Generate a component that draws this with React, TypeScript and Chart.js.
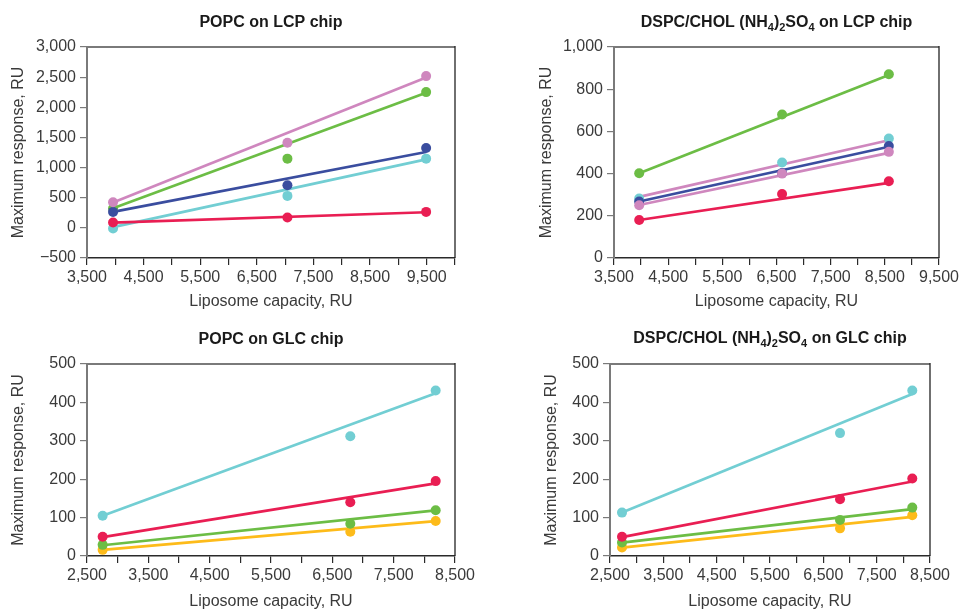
import React, { useEffect, useRef } from 'react';
import { Chart, registerables } from 'chart.js';

Chart.register(...registerables);

// ---------- Data ----------
// Panel 1: POPC on LCP chip
const p1X = [3960, 7040, 9490];
const p1Pink = [425, 1413, 2517];
const p1PinkFit = [420, 2495];
const p1Green = [320, 1148, 2252];
const p1GreenFit = [326, 2241];
const p1Blue = [265, 707, 1325];
const p1BlueFit = [265, 1259];
const p1Cyan = [-11, 530, 1148];
const p1CyanFit = [11, 1137];
const p1Red = [88, 171, 265];
const p1RedFit = [88, 259];

// Panel 2: DSPC/CHOL (NH4)2SO4 on LCP chip
const p2X = [3965, 6603, 8574];
const p2Green = [402, 680, 871];
const p2GreenFit = [402, 867];
const p2Cyan = [282, 453, 566];
const p2CyanFit = [290, 558];
const p2Blue = [268, 403, 531];
const p2BlueFit = [268, 527];
const p2Pink = [250, 400, 503];
const p2PinkFit = [251, 498];
const p2Red = [180, 303, 364];
const p2RedFit = [180, 356];

// Panel 3: POPC on GLC chip
const p3X = [2755, 6793, 8185];
const p3Cyan = [105, 312, 431];
const p3CyanFit = [105, 424];
const p3Red = [50, 140, 195];
const p3RedFit = [49, 189];
const p3Green = [29, 84, 119];
const p3GreenFit = [28, 119];
const p3Yellow = [16, 63, 91];
const p3YellowFit = [16, 91];

// Panel 4: DSPC/CHOL (NH4)2SO4 on GLC chip
const p4X = [2725, 6813, 8168];
const p4Cyan = [113, 320, 431];
const p4CyanFit = [113, 422];
const p4Red = [50, 148, 202];
const p4RedFit = [49, 194];
const p4Green = [35, 94, 126];
const p4GreenFit = [35, 122];
const p4Yellow = [22, 72, 106];
const p4YellowFit = [22, 102];

const titleP1 = [{ t: 'POPC on LCP chip' }];
const titleP2 = [
  { t: 'DSPC/CHOL (NH' }, { t: '4', sub: true }, { t: ')' }, { t: '2', sub: true },
  { t: 'SO' }, { t: '4', sub: true }, { t: ' on LCP chip' },
];
const titleP3 = [{ t: 'POPC on GLC chip' }];
const titleP4 = [
  { t: 'DSPC/CHOL (NH' }, { t: '4', sub: true }, { t: ')' }, { t: '2', sub: true },
  { t: 'SO' }, { t: '4', sub: true }, { t: ' on GLC chip' },
];

const xTitle = 'Liposome capacity, RU';
const yTitle = 'Maximum response, RU';

// ---------- Styles ----------
const PINK = '#cf87be';
const GREEN = '#6cbd45';
const BLUE = '#3a4d9f';
const CYAN = '#72ced3';
const RED = '#e91e53';
const YELLOW = '#fdbb1a';

const FONT = '"Liberation Sans", Arial, Helvetica, sans-serif';

type Series = { pts: number[]; fit: number[]; color: string; fitColor?: string };

type PanelCfg = {
  left: number; top: number; w: number; h: number;
  plotL: number; plotR: number; plotT: number; plotB: number;
  xs: number[]; series: Series[];
  xMin: number; xMax: number; yMin: number; yMax: number; yStep: number;
  title: { t: string; sub?: boolean }[]; titleBase: number; yTitleX: number;
};

const fmt = (v: number) => {
  const s = Math.abs(v).toLocaleString('en-US');
  return v < 0 ? '\u2212' + s : s;
};

const titlePlugin = {
  id: 'panelTitle',
  afterDraw(chart: any, _args: any, opts: any) {
    const { ctx, chartArea } = chart;
    const segs = opts.segments || [];
    const big = `bold 16px ${FONT}`;
    const small = `bold 11px ${FONT}`;
    ctx.save();
    let total = 0;
    for (const s of segs) {
      ctx.font = s.sub ? small : big;
      total += ctx.measureText(s.t).width;
    }
    let x = (chartArea.left + chartArea.right) / 2 - total / 2;
    ctx.textAlign = 'left';
    ctx.textBaseline = 'alphabetic';
    ctx.fillStyle = '#1a1a1a';
    for (const s of segs) {
      ctx.font = s.sub ? small : big;
      ctx.fillText(s.t, x, opts.y + (s.sub ? 4 : 0));
      x += ctx.measureText(s.t).width;
    }
    ctx.restore();
  },
};

const framePlugin = {
  id: 'frame',
  afterDatasetsDraw(chart: any) {
    const { ctx, chartArea } = chart;
    ctx.save();
    ctx.strokeStyle = '#7a7a7a';
    ctx.lineWidth = 2;
    ctx.beginPath();
    ctx.moveTo(chartArea.left, chartArea.top);
    ctx.lineTo(chartArea.right, chartArea.top);
    ctx.stroke();
    ctx.strokeStyle = '#222';
    ctx.lineWidth = 1.3;
    ctx.beginPath();
    ctx.moveTo(chartArea.right, chartArea.top - 1);
    ctx.lineTo(chartArea.right, chartArea.bottom);
    ctx.stroke();
    ctx.restore();
  },
};

function Panel({ cfg }: { cfg: PanelCfg }) {
  const ref = useRef<HTMLCanvasElement | null>(null);
  useEffect(() => {
    if (!ref.current) return;
    const c = cfg;
    const pointSets = c.series.map((s) => ({
      type: 'scatter' as const,
      data: c.xs.map((x, i) => ({ x, y: s.pts[i] })),
      backgroundColor: s.color,
      borderColor: s.color,
      borderWidth: 0,
      pointRadius: 5,
      showLine: false,
    }));
    const lineSets = c.series.map((s) => ({
      type: 'line' as const,
      data: [
        { x: c.xs[0], y: s.fit[0] },
        { x: c.xs[c.xs.length - 1], y: s.fit[1] },
      ],
      borderColor: s.fitColor || s.color,
      borderWidth: 2.7,
      pointRadius: 0,
      fill: false,
      tension: 0,
    }));
    const chart = new Chart(ref.current, {
      type: 'scatter',
      data: { datasets: [...pointSets, ...lineSets] as any },
      plugins: [titlePlugin, framePlugin],
      options: {
        responsive: false,
        animation: false,
        devicePixelRatio: 1,
        events: [],
        layout: {
          padding: { top: c.plotT - c.top, right: c.left + c.w - c.plotR, left: 0, bottom: 0 },
        },
        plugins: {
          legend: { display: false },
          tooltip: { enabled: false },
          title: { display: false },
          panelTitle: { segments: c.title, y: c.titleBase - c.top },
        } as any,
        scales: {
          x: {
            type: 'linear',
            position: 'bottom',
            min: c.xMin,
            max: c.xMax,
            afterFit: (s: any) => { s.height = c.top + c.h - c.plotB; },
            ticks: {
              stepSize: 500,
              autoSkip: false,
              maxRotation: 0,
              padding: 3,
              color: '#3a3a3a',
              font: { family: FONT, size: 16 },
              callback: (v: any) => ((Number(v) - c.xMin) % 1000 === 0 ? fmt(Number(v)) : ''),
            },
            grid: { drawOnChartArea: false, drawTicks: true, tickLength: 7, color: '#2a2a2a', lineWidth: 1.2 },
            border: { display: true, color: '#2a2a2a', width: 1.4 },
            title: {
              display: true, text: xTitle, color: '#3a3a3a',
              font: { family: FONT, size: 16 }, padding: { top: 0, bottom: 0 },
            },
          },
          y: {
            type: 'linear',
            position: 'left',
            min: c.yMin,
            max: c.yMax,
            afterFit: (s: any) => { s.width = c.plotL - c.left; },
            ticks: {
              stepSize: c.yStep,
              autoSkip: false,
              padding: 4,
              color: '#3a3a3a',
              font: { family: FONT, size: 16 },
              callback: (v: any) => fmt(Number(v)),
            },
            grid: { drawOnChartArea: false, drawTicks: true, tickLength: 7, color: '#7a7a7a', lineWidth: 1.2 },
            border: { display: true, color: '#7a7a7a', width: 2 },
            title: {
              display: true, text: yTitle, color: '#3a3a3a',
              font: { family: FONT, size: 16 },
              padding: { top: c.yTitleX - c.left - 9.6, bottom: 0 },
            },
          },
        },
      } as any,
    });
    return () => chart.destroy();
  }, [cfg]);
  return (
    <canvas
      ref={ref}
      width={cfg.w}
      height={cfg.h}
      style={{ position: 'absolute', left: cfg.left, top: cfg.top, width: cfg.w, height: cfg.h }}
    />
  );
}

const panels: PanelCfg[] = [
  {
    left: 0, top: 0, w: 480, h: 311,
    plotL: 87, plotR: 455, plotT: 47, plotB: 258,
    xs: p1X,
    series: [
      { pts: p1Pink, fit: p1PinkFit, color: PINK },
      { pts: p1Red, fit: p1RedFit, color: RED },
      { pts: p1Blue, fit: p1BlueFit, color: BLUE },
      { pts: p1Green, fit: p1GreenFit, color: GREEN },
      { pts: p1Cyan, fit: p1CyanFit, color: CYAN },
    ],
    xMin: 3500, xMax: 10000, yMin: -500, yMax: 3000, yStep: 500,
    title: titleP1, titleBase: 27, yTitleX: 19,
  },
  {
    left: 480, top: 0, w: 483, h: 311,
    plotL: 614, plotR: 939, plotT: 47, plotB: 258,
    xs: p2X,
    series: [
      { pts: p2Green, fit: p2GreenFit, color: GREEN },
      { pts: p2Red, fit: p2RedFit, color: RED },
      { pts: p2Pink, fit: p2PinkFit, color: PINK },
      { pts: p2Blue, fit: p2BlueFit, color: BLUE },
      { pts: p2Cyan, fit: p2CyanFit, color: CYAN, fitColor: PINK },
    ],
    xMin: 3500, xMax: 9500, yMin: 0, yMax: 1000, yStep: 200,
    title: titleP2, titleBase: 27, yTitleX: 547,
  },
  {
    left: 0, top: 305, w: 480, h: 306,
    plotL: 87, plotR: 455, plotT: 364, plotB: 556,
    xs: p3X,
    series: [
      { pts: p3Cyan, fit: p3CyanFit, color: CYAN },
      { pts: p3Red, fit: p3RedFit, color: RED },
      { pts: p3Green, fit: p3GreenFit, color: GREEN },
      { pts: p3Yellow, fit: p3YellowFit, color: YELLOW },
    ],
    xMin: 2500, xMax: 8500, yMin: 0, yMax: 500, yStep: 100,
    title: titleP3, titleBase: 344, yTitleX: 19,
  },
  {
    left: 480, top: 305, w: 483, h: 306,
    plotL: 610, plotR: 930, plotT: 364, plotB: 556,
    xs: p4X,
    series: [
      { pts: p4Cyan, fit: p4CyanFit, color: CYAN },
      { pts: p4Red, fit: p4RedFit, color: RED },
      { pts: p4Green, fit: p4GreenFit, color: GREEN },
      { pts: p4Yellow, fit: p4YellowFit, color: YELLOW },
    ],
    xMin: 2500, xMax: 8500, yMin: 0, yMax: 500, yStep: 100,
    title: titleP4, titleBase: 343, yTitleX: 552,
  },
];

export default function App() {
  return (
    <div
      style={{
        position: 'fixed', left: 0, top: 0, width: 963, height: 609,
        overflow: 'hidden', background: '#ffffff',
      }}
    >
      {panels.map((p, i) => (
        <Panel key={i} cfg={p} />
      ))}
    </div>
  );
}
